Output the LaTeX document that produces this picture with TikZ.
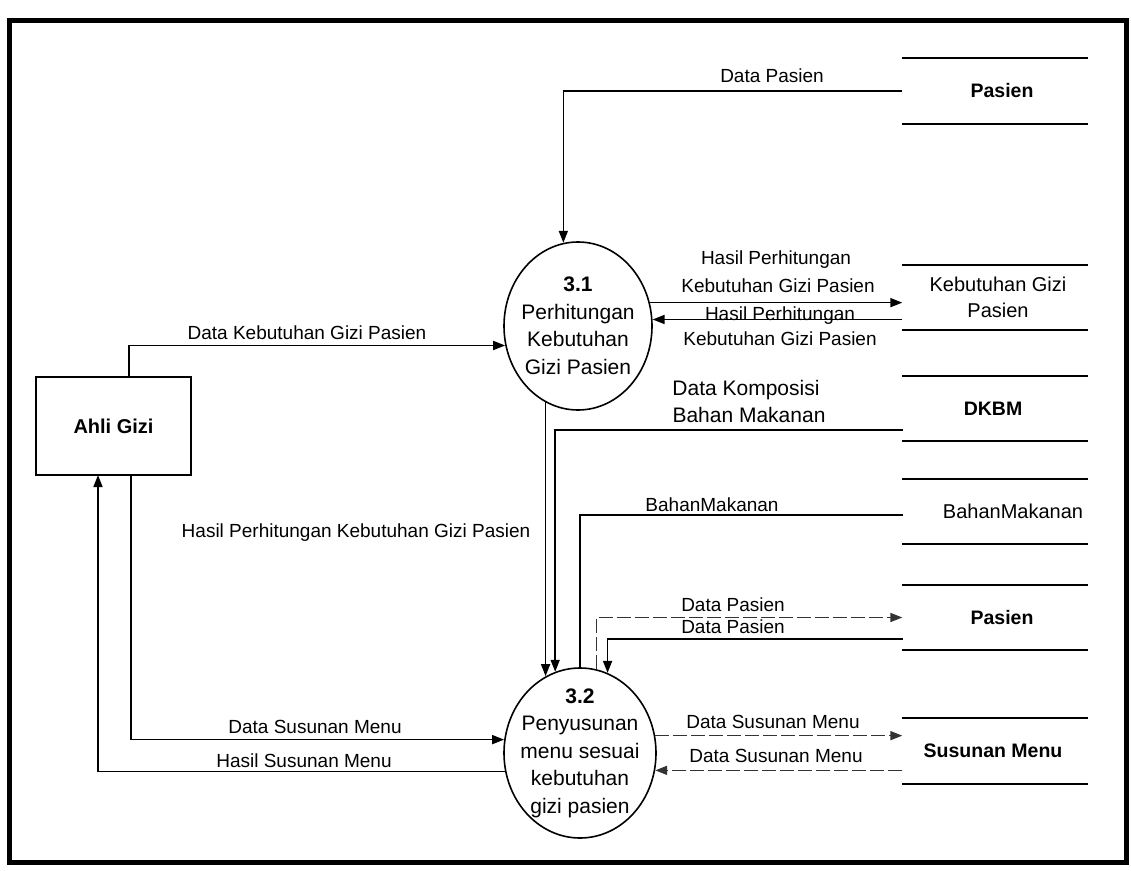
\documentclass[tikz,border=0pt]{standalone}
\usepackage{fontspec}
\setmainfont{Liberation Sans}
\usetikzlibrary{arrows.meta,shapes.geometric}
\begin{document}
\begin{tikzpicture}[x=1bp,y=-1bp,
  flow/.style={line width=1.6bp, -{Triangle[length=12bp,width=9bp]}},
  plain/.style={line width=1.6bp},
  flowd/.style={flow, dash pattern=on 14bp off 4bp, black!80},
  proc/.style={ellipse, draw, line width=1.6bp, minimum width=148bp, minimum height=168bp, inner sep=0pt},
  ptext/.style={font=\fontsize{21bp}{27.5bp}\selectfont, align=center, inner sep=0pt},
  entity/.style={draw, line width=1.8bp, minimum width=155bp, minimum height=98bp, inner sep=0pt, font=\fontsize{20bp}{24bp}\selectfont\bfseries},
  store/.style={minimum width=185bp, minimum height=65bp, inner sep=0pt},
  storeline/.style={line width=2.2bp},
  stext/.style={font=\fontsize{19.5bp}{26bp}\selectfont\bfseries, align=center, inner sep=0pt},
  stextr/.style={font=\fontsize{20bp}{26bp}\selectfont, align=center, inner sep=0pt},
  lbl/.style={font=\fontsize{19bp}{22bp}\selectfont, inner sep=0pt},
  lblbig/.style={font=\fontsize{21bp}{24bp}\selectfont, inner sep=0pt}
]
\useasboundingbox (0,0) rectangle (1131,871);
\fill[white] (0,0) rectangle (1131,871);
\draw[line width=5bp] (9.5,20) rectangle (1126,862);

% entity
\node[entity] (e) at (113.5,426) {Ahli Gizi};
\coordinate (e1) at (129,377);
\coordinate (e2) at (131,475);
\coordinate (e3) at (98,475);

% processes
\node[proc, label={[ptext]center:{\textbf{3.1}\\Perhitungan\\Kebutuhan\\Gizi Pasien}}] (p1) at (578,326) {};
\node[proc, minimum width=152bp, minimum height=170bp, label={[ptext]center:{\textbf{3.2}\\Penyusunan\\menu sesuai\\kebutuhan\\gizi pasien}}] (p2) at (580,753) {};

% data stores
\node[store, label={[stext,xshift=7bp]center:Pasien}] (s1) at (995,91) {};
\node[store, label={[stextr,xshift=3bp]center:{Kebutuhan Gizi\\Pasien}}] (s2) at (995,297.5) {};
\node[store, label={[stext,xshift=-2bp]center:DKBM}] (s3) at (995,408.5) {};
\node[store, label={[stextr,xshift=18bp]center:BahanMakanan}] (s4) at (995,511.5) {};
\node[store, label={[stext,xshift=7bp]center:Pasien}] (s5) at (995,617.5) {};
\node[store, label={[stext,xshift=-2bp]center:Susunan Menu}] (s6) at (995,751) {};
\foreach \s in {s1,s2,s3,s4,s5,s6}
  \draw[storeline] (\s.north west) -- (\s.north east) (\s.south west) -- (\s.south east);

% free ends at stores
\coordinate (d1) at (902.5,430);
\coordinate (b1) at (902.5,515);
\coordinate (q1) at (902.5,639);

% flows
\draw[flow] (s1.west) -| (p1.100);
\node[lbl] (l1) at (772,76) {Data Pasien};

\draw[flow] (e1) |- (p1.195);
\node[lbl] (l2) at (307,333) {Data Kebutuhan Gizi Pasien};

\draw[flow] (p1.18) -- (p1.18 -| s2.west);
\draw[flow] (p1.5 -| s2.west) -- (p1.5);
\node[lbl] (l3) at (776,260) {Hasil Perhitungan};
\node[lbl] (l4) at (778,286) {Kebutuhan Gizi Pasien};
\node[lbl] (l5) at (780,316) {Hasil Perhitungan};
\node[lbl] (l6) at (780,339) {Kebutuhan Gizi Pasien};

\draw[flow] (p1.247) -- (p1.247 |- p2.114);
\node[lbl] (l7) at (356,533) {Hasil Perhitungan Kebutuhan Gizi Pasien};

\draw[flow] (d1) -| (p2.107);
\node[lblbig] (l8) at (746,390) {Data Komposisi};
\node[lblbig] (l9) at (749,415) {Bahan Makanan};

\draw[plain] (b1) -| (p2.north);
\node[lbl] (l10) at (712,505) {BahanMakanan};

\draw[flowd] (p2.79) |- (s5.west);
\draw[flow] (q1) -| (p2.71);
\node[lbl] (l11) at (733,605) {Data Pasien};
\node[lbl] (l12) at (733,627) {Data Pasien};

\draw[flowd] (p2.13) -- (p2.13 -| s6.west);
\draw[flowd] (p2.347 -| s6.west) -- (p2.347);
\node[lbl] (l13) at (773,722) {Data Susunan Menu};
\node[lbl] (l14) at (776,756) {Data Susunan Menu};

\draw[flow] (e2) |- (p2.170);
\draw[flow] (p2.194) -| (e3);
\node[lbl] (l15) at (315,727) {Data Susunan Menu};
\node[lbl] (l16) at (304,761) {Hasil Susunan Menu};
\end{tikzpicture}
\end{document}
